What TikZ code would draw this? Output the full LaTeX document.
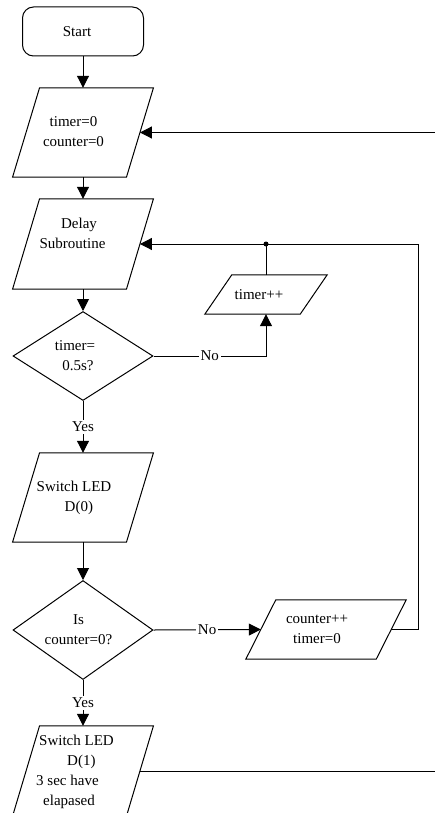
\documentclass[tikz,border=0pt]{standalone}
\usepackage{fontspec}
\setmainfont{Liberation Serif}
\usetikzlibrary{shapes.geometric,arrows.meta}
\newcommand\ctab[2]{\begin{tabular}{@{}c@{}}#2\end{tabular}\hspace*{#1}}
\newcommand\ltab[2]{\begin{tabular}{@{}l@{}}#2\end{tabular}\hspace*{#1}}
\newcommand\pgram[2]{\draw[edge] ([xshift=#2]#1.north west) -- ([xshift=#2]#1.north east) -- ([xshift=-#2]#1.south east) -- ([xshift=-#2]#1.south west) -- cycle;}
\begin{document}
\begin{tikzpicture}[x=1pt,y=-1pt,
  font=\fontsize{15}{20}\selectfont,
  edge/.style={line width=1pt},
  arr/.style={edge,-{Triangle[length=12pt,width=12pt]}},
  term/.style={draw,edge,rounded corners=11pt,minimum width=121pt,minimum height=49pt,inner sep=0pt},
  pbox/.style={inner sep=0pt},
  dec/.style={draw,edge,diamond,aspect=1.5,inner sep=0pt,minimum width=140pt},
  lbl/.style={fill=white,inner sep=2pt}]
\useasboundingbox (0,0) rectangle (435,813);
\node[term] (start) at (83,31.5) {Start\hspace*{12pt}};
\node[pbox,minimum width=113.5pt,minimum height=89pt] (init) at (83,132.5) {\ctab{19pt}{timer=0\\counter=0}};
\node[pbox,minimum width=113.5pt,minimum height=90pt] (delay) at (83,244) {\ctab{21pt}{\hspace*{13pt}Delay\\Subroutine\\\mbox{}}};
\node[dec,minimum height=89pt] (dec1) at (83,356) {\ctab{16pt}{timer=\\\hspace*{6pt}0.5s?}};
\node[pbox,minimum width=95pt,minimum height=39pt] (tinc) at (266,294.5) {timer++\hspace*{14pt}};
\node[pbox,minimum width=113.5pt,minimum height=89pt] (sw0) at (83,497.5) {\ltab{18pt}{Switch LED\\\hspace*{28pt}D(0)}};
\node[dec,minimum height=99pt] (dec2) at (83,630) {\ctab{9pt}{Is\\counter=0?}};
\node[pbox,minimum width=130pt,minimum height=59pt] (cinc) at (326,629.5) {\ctab{18pt}{counter++\\timer=0}};
\node[pbox,minimum width=113.5pt,minimum height=90pt] (sw1) at (83,771) {\ltab{16pt}{\hspace*{3pt}Switch LED\\\hspace*{31pt}D(1)\\3 sec have\\\hspace*{7pt}elapased}};
\pgram{init}{13.5}
\pgram{delay}{13.5}
\pgram{tinc}{13.5}
\pgram{sw0}{13.5}
\pgram{cinc}{15}
\pgram{sw1}{13.5}
\coordinate (dot) at (266,244);
\coordinate (rail) at (418,629.5);
\coordinate (inR) at (435,132.5);
\coordinate (outR) at (435,771);
\coordinate (c1) at (266,356);
\draw[arr] (start.south) -- (init.north);
\draw[arr] (init.south) -- (delay.north);
\draw[arr] (delay.south) -- (dec1.north);
\draw[arr] (dec1.south) -- node[lbl]{Yes} (sw0.north);
\draw[arr] (sw0.south) -- (dec2.north);
\draw[arr] (dec2.south) -- node[lbl]{Yes} (sw1.north);
\draw[arr] (dec1.east) -- node[lbl]{No} (c1) -- (tinc.south);
\draw[edge] (tinc.north) -- (dot);
\fill (dot) circle (2.5pt);
\draw[arr] (dec2.east) -- node[lbl]{No} (cinc.west);
\draw[arr] (cinc.east) -- (rail) |- (delay.east);
\draw[arr] (inR) -- (init.east);
\draw[edge] (sw1.east) -- (outR);
\end{tikzpicture}
\end{document}
